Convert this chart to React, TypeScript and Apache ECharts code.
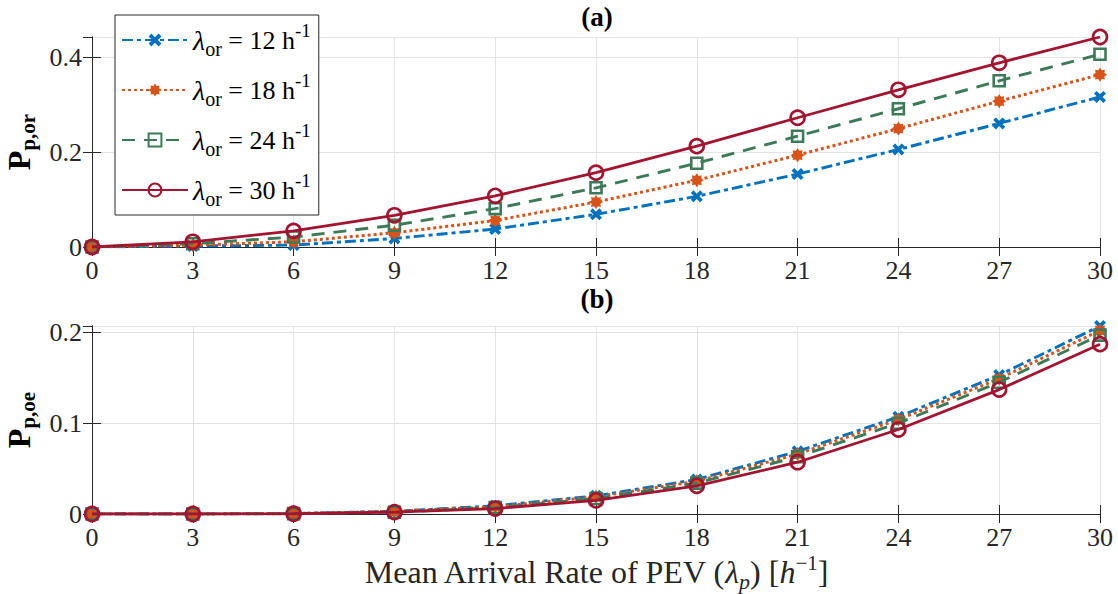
import React, { useEffect, useRef } from "react";
import * as echarts from "echarts";

const X = [0, 3, 6, 9, 12, 15, 18, 21, 24, 27, 30];
const LEGEND_RATES = ["12", "18", "24", "30"];
const NAMES = ["λor = 12 h-1", "λor = 18 h-1", "λor = 24 h-1", "λor = 30 h-1"];

// (a) P_p,or
const A12 = [0, 0.002, 0.004, 0.018, 0.038, 0.069, 0.107, 0.154, 0.206, 0.261, 0.317];
const A18 = [0, 0.004, 0.011, 0.03, 0.056, 0.095, 0.141, 0.194, 0.25, 0.308, 0.364];
const A24 = [0, 0.007, 0.021, 0.046, 0.081, 0.125, 0.177, 0.234, 0.292, 0.351, 0.407];
const A30 = [0, 0.011, 0.034, 0.067, 0.108, 0.157, 0.213, 0.273, 0.332, 0.389, 0.4435];

// (b) P_p,oe
const B12 = [0, 0, 0.0005, 0.003, 0.009, 0.02, 0.038, 0.069, 0.107, 0.153, 0.207];
const B18 = [0, 0, 0.0004, 0.003, 0.008, 0.019, 0.036, 0.066, 0.104, 0.149, 0.202];
const B24 = [0, 0, 0.0004, 0.002, 0.007, 0.017, 0.034, 0.063, 0.1, 0.145, 0.197];
const B30 = [0, 0, 0.0003, 0.002, 0.006, 0.015, 0.031, 0.057, 0.093, 0.137, 0.187];

const Y_TOP_MAX = 0.4435;
const Y_BOT_MAX = 0.207;

const FONT = "'Liberation Serif', 'Times New Roman', serif";
const COLORS = ["#0072BD", "#D95319", "#3C7A58", "#A2142F"];
const AX = "#262626";

const SYM_X =
  "path://M2.2,0L5,2.8L7.8,0L10,2.2L7.2,5L10,7.8L7.8,10L5,7.2L2.2,10L0,7.8L2.8,5L0,2.2Z";
const SYM_STAR =
  "path://M10,5L8.1,6.3L8.54,8.54L6.3,8.1L5,10L3.7,8.1L1.46,8.54L1.9,6.3L0,5L1.9,3.7L1.46,1.46L3.7,1.9L5,0L6.3,1.9L8.54,1.46L8.1,3.7Z";

const STYLES = [
  { symbol: SYM_X, size: 12, line: { type: [11, 4, 4, 4], width: 2.9 }, fill: COLORS[0], border: 0 },
  { symbol: SYM_STAR, size: 14, line: { type: [3, 3], width: 3 }, fill: COLORS[1], border: 0 },
  { symbol: "rect", size: 11, line: { type: [13, 9], width: 2.9 }, fill: "rgba(0,0,0,0)", border: 2.6 },
  { symbol: "circle", size: 14, line: { type: "solid", width: 2.8 }, fill: "rgba(0,0,0,0)", border: 2.6 },
];

export default function App() {
  const ref = useRef<HTMLDivElement>(null);
  useEffect(() => {
    if (!ref.current) return;
    const chart = echarts.init(ref.current, null, { renderer: "svg" });
    const topData = [A12, A18, A24, A30];
    const botData = [B12, B18, B24, B30];
    const mkSeries = (arr: number[][], xi: number, yi: number) =>
      arr.map((vals, k) => ({
        type: "line",
        name: NAMES[k],
        xAxisIndex: xi,
        yAxisIndex: yi,
        data: X.map((x, i) => [x, vals[i]]),
        symbol: STYLES[k].symbol,
        symbolSize: STYLES[k].size,
        showAllSymbol: true,
        lineStyle: { color: COLORS[k], width: STYLES[k].line.width, type: STYLES[k].line.type as any },
        itemStyle: {
          color: STYLES[k].fill,
          borderColor: COLORS[k],
          borderWidth: STYLES[k].border,
        },
        emphasis: { disabled: true },
        z: 2 + k,
      }));

    const tickLabel = { fontFamily: FONT, fontSize: 26, color: AX };
    const mainX = (gi: number, extra: any = {}) => ({
      type: "value",
      gridIndex: gi,
      min: 0,
      max: 30,
      interval: 3,
      position: "bottom",
      axisLine: { show: true, lineStyle: { color: AX, width: 1 } },
      axisTick: { show: true, inside: true, length: 9, lineStyle: { color: AX } },
      axisLabel: { ...tickLabel, margin: 10, showMinLabel: true, showMaxLabel: true },
      splitLine: { show: true, lineStyle: { color: "#e3e3e3", width: 1 } },
      ...extra,
    });
    const topX = (gi: number) => ({
      type: "value",
      gridIndex: gi,
      min: 0,
      max: 30,
      interval: 3,
      position: "top",
      axisLine: { show: true, lineStyle: { color: AX, width: 1 } },
      axisTick: { show: true, inside: true, length: 9, lineStyle: { color: AX } },
      axisLabel: { show: false },
      splitLine: { show: false },
    });
    const mainY = (gi: number, max: number, interval: number, extra: any = {}) => ({
      type: "value",
      gridIndex: gi,
      min: 0,
      max,
      interval,
      position: "left",
      axisLine: { show: true, lineStyle: { color: AX, width: 1 } },
      axisTick: { show: true, inside: true, length: 9, lineStyle: { color: AX } },
      axisLabel: {
        ...tickLabel,
        margin: 10,
        showMaxLabel: false,
        formatter: (v: number) => {
          const r = Math.round(v / interval);
          if (Math.abs(v - r * interval) > 1e-9) return "";
          return String(+(r * interval).toFixed(2));
        },
      },
      splitLine: { show: true, lineStyle: { color: "#e3e3e3", width: 1 } },
      nameLocation: "middle",
      nameRotate: 90,
      ...extra,
    });
    const rightY = (gi: number, max: number, interval: number) => ({
      type: "value",
      gridIndex: gi,
      min: 0,
      max,
      interval,
      position: "right",
      axisLine: { show: true, lineStyle: { color: AX, width: 1 } },
      axisTick: { show: true, inside: true, length: 9, lineStyle: { color: AX } },
      axisLabel: { show: false },
      splitLine: { show: false },
    });

    const yNameRich = {
      P: { fontFamily: FONT, fontSize: 32, fontWeight: "bold", color: "#000", lineHeight: 40 },
      s: { fontFamily: FONT, fontSize: 21, fontWeight: "bold", color: "#000", lineHeight: 20, verticalAlign: "bottom" },
    };

    const option: any = {
      animation: false,
      backgroundColor: "#fff",
      textStyle: { fontFamily: FONT },
      title: [
        { text: "(a)", left: 592, top: -2, textAlign: "center", textStyle: { fontFamily: FONT, fontSize: 27, fontWeight: "bold", color: "#000" } },
        { text: "(b)", left: 592, top: 280, textAlign: "center", textStyle: { fontFamily: FONT, fontSize: 27, fontWeight: "bold", color: "#000" } },
      ],
      grid: [
        { left: 92, right: 18, top: 37, height: 210, outerBoundsMode: "none", containLabel: false },
        { left: 92, right: 18, top: 326, height: 188, outerBoundsMode: "none", containLabel: false },
      ],
      legend: {
        show: true,
        orient: "vertical",
        left: 115,
        top: 15,
        data: NAMES,
        backgroundColor: "#fff",
        borderColor: AX,
        borderWidth: 1,
        borderRadius: 0,
        padding: [6, 8, 6, 6],
        itemGap: 12,
        itemWidth: 66,
        itemHeight: 16,
        selectedMode: false,
        formatter: (name: string) => {
          const k = NAMES.indexOf(name);
          return `{l|λ}{sub|or}{t| = ${LEGEND_RATES[k]} h}{sup|-1}`;
        },
        textStyle: {
          fontFamily: FONT,
          color: "#000",
          rich: {
            l: { fontFamily: FONT, fontSize: 28, fontStyle: "italic", color: "#000", lineHeight: 38 },
            sub: { fontFamily: FONT, fontSize: 20, color: "#000", lineHeight: 16, verticalAlign: "bottom" },
            t: { fontFamily: FONT, fontSize: 26, color: "#000", lineHeight: 38 },
            sup: { fontFamily: FONT, fontSize: 19, color: "#000", lineHeight: 16, verticalAlign: "top" },
          },
        },
      },
      xAxis: [
        mainX(0),
        topX(0),
        mainX(1, {
          name: "Mean Arrival Rate of PEV ({i|λ}{sub|p}) [{i|h}{sup|−1}]",
          nameLocation: "middle",
          nameGap: 38,
          nameTextStyle: {
            fontFamily: FONT,
            fontSize: 32,
            color: AX,
            rich: {
              i: { fontFamily: FONT, fontSize: 32, fontStyle: "italic", color: AX, lineHeight: 40 },
              sub: { fontFamily: FONT, fontSize: 22, fontStyle: "italic", color: AX, lineHeight: 18, verticalAlign: "bottom" },
              sup: { fontFamily: FONT, fontSize: 21, color: AX, lineHeight: 18, verticalAlign: "top" },
            },
          },
        }),
        topX(1),
      ],
      yAxis: [
        mainY(0, Y_TOP_MAX, 0.2, {
          name: "{P|P}{s|p,or}",
          nameGap: 52,
          nameTextStyle: { fontFamily: FONT, rich: yNameRich },
        }),
        rightY(0, Y_TOP_MAX, 0.2),
        mainY(1, Y_BOT_MAX, 0.1, {
          name: "{P|P}{s|p,oe}",
          nameGap: 52,
          nameTextStyle: { fontFamily: FONT, rich: yNameRich },
        }),
        rightY(1, Y_BOT_MAX, 0.1),
      ],
      series: [...mkSeries(topData, 0, 0), ...mkSeries(botData, 2, 2)],
    };
    chart.setOption(option);
    return () => chart.dispose();
  }, []);
  return (
    <div
      ref={ref}
      style={{ position: "fixed", left: 0, top: 0, width: 1118, height: 594, background: "#fff" }}
    />
  );
}
